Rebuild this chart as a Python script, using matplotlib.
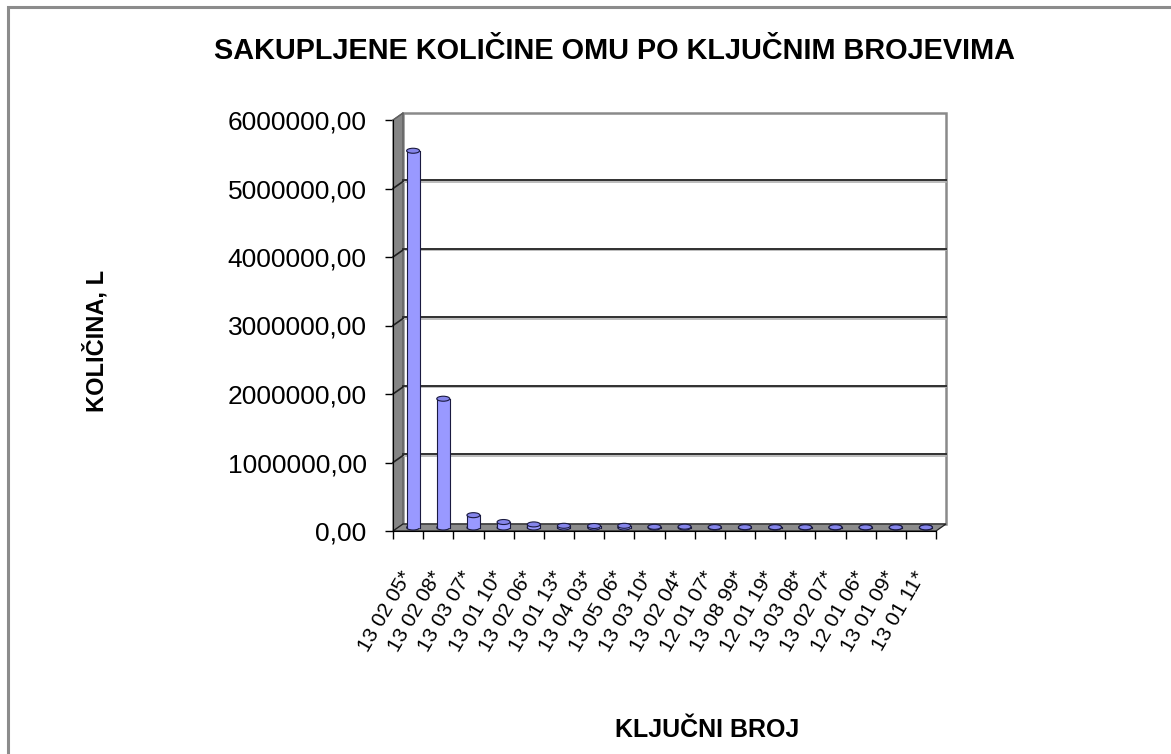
import numpy as np
import matplotlib
matplotlib.use('Agg')
import matplotlib.pyplot as plt
from matplotlib.patches import Polygon, Ellipse, Rectangle
from matplotlib.ticker import FuncFormatter

plt.rcParams['font.family'] = ['Liberation Sans', 'DejaVu Sans']

# data
kljucni_broj = ['13 02 05*', '13 02 08*', '13 03 07*', '13 01 10*', '13 02 06*',
                '13 01 13*', '13 04 03*', '13 05 06*', '13 03 10*', '13 02 04*',
                '12 01 07*', '13 08 99*', '12 01 19*', '13 03 08*', '13 02 07*',
                '12 01 06*', '13 01 09*', '13 01 11*']
kolicina = [5500000, 1880000, 180000, 80000, 45000,
            25000, 22000, 25000, 10000, 12000,
            6000, 5000, 5000, 4000, 4000,
            3000, 3000, 2000]
y_ticks = [0, 1000000, 2000000, 3000000, 4000000, 5000000, 6000000]

W, H = 1171, 754
fig = plt.figure(figsize=(W / 100, H / 100), dpi=100)
fig.patch.set_facecolor('white')

# front plane of the pseudo-3D box (pixels)
ax = fig.add_axes([393 / W, 1 - 531 / H, 543 / W, 411 / H])
n = len(kljucni_broj)
x = np.arange(n)
ax.set_xlim(-0.5, n - 0.5)
ax.set_ylim(0, 6000000)
ax.patch.set_alpha(0)

# depth offset (10 px right, 7 px up) in data units
ddx = 10 / 543 * n
ddy = 7 / 411 * 6000000
x0, x1 = -0.5, n - 0.5
ytop = 6000000

# back wall
back = Rectangle((x0 + ddx, ddy), x1 - x0, ytop, facecolor='white',
                 edgecolor='#8a8a8a', lw=1.8, clip_on=False, zorder=1)
ax.add_patch(back)
# side wall
side = Polygon([(x0, 0), (x0, ytop), (x0 + ddx, ytop + ddy), (x0 + ddx, ddy)],
               closed=True, facecolor='#858585', edgecolor='#555555', lw=0.8,
               clip_on=False, zorder=2)
ax.add_patch(side)
# floor
floor = Polygon([(x0, 0), (x1, 0), (x1 + ddx, ddy), (x0 + ddx, ddy)],
                closed=True, facecolor='#8c8c8c', edgecolor='#222222', lw=0.9,
                clip_on=False, zorder=2)
ax.add_patch(floor)

# gridlines on back wall and side wall
for v in y_ticks[1:-1]:
    ax.plot([x0 + ddx, x1 + ddx], [v + ddy, v + ddy], color='#b0b0b0', lw=1.2,
            clip_on=False, zorder=3)
    ax.plot([x0 + ddx, x1 + ddx], [v + ddy + 15000, v + ddy + 15000], color='#303030',
            lw=1.4, clip_on=False, zorder=3)
    ax.plot([x0, x0 + ddx], [v, v + ddy], color='#202020', lw=1.2,
            clip_on=False, zorder=3)
ax.plot([x0, x0 + ddx], [ytop, ytop + ddy], color='#606060', lw=1.0,
        clip_on=False, zorder=3)

# cylinders at mid depth
bw = 0.43
eh = 5 / 68.5 * 1000000
cx = x + ddx / 2
base = ddy / 2
for xc, v in zip(cx, kolicina):
    ax.add_patch(Ellipse((xc, base), bw, eh, facecolor='#9999ff',
                         edgecolor='#1a1a40', lw=0.8, zorder=3.5))
ax.bar(cx, kolicina, width=bw, bottom=base, color='#9999ff',
       edgecolor='none', zorder=4)
for xc, v in zip(cx, kolicina):
    ax.plot([xc - bw / 2, xc - bw / 2], [base, base + v], color='#1a1a40', lw=0.8, zorder=5)
    ax.plot([xc + bw / 2, xc + bw / 2], [base, base + v], color='#1a1a40', lw=0.8, zorder=5)
    ax.add_patch(Ellipse((xc, base + v), bw, eh, facecolor='#8585ea',
                         edgecolor='#1a1a40', lw=0.8, zorder=6))

# axes styling
for s in ['top', 'right']:
    ax.spines[s].set_visible(False)
ax.spines['left'].set_color('black')
ax.spines['bottom'].set_color('black')
ax.spines['left'].set_zorder(7)
ax.spines['bottom'].set_zorder(7)

ax.set_yticks(y_ticks)
ax.yaxis.set_major_formatter(FuncFormatter(lambda v, p: f'{v:.2f}'.replace('.', ',')))
ax.tick_params(axis='y', length=6, width=1, direction='out', pad=13, labelsize=19)

ax.set_xticks(x)
ax.set_xticklabels(kljucni_broj, rotation=60, ha='right', va='center',
                   rotation_mode='anchor', fontsize=15)
ax.set_xticks(np.arange(-0.5, n, 1), minor=True)
ax.tick_params(axis='x', which='major', length=0, pad=30)
ax.tick_params(axis='x', which='minor', length=6, width=1, direction='out')

# titles
fig.text(614 / W, 1 - 51 / H, 'SAKUPLJENE KOLIČINE OMU PO KLJUČNIM BROJEVIMA',
         ha='center', va='center', fontsize=20.8, fontweight='bold')
fig.text(96 / W, 1 - 341 / H, 'KOLIČINA, L', rotation=90, ha='center',
         va='center', fontsize=17, fontweight='bold')
fig.text(707 / W, 1 - 730 / H, 'KLJUČNI BROJ', ha='center', va='center',
         fontsize=18, fontweight='bold')

# outer chart border (only top and left visible)
border = Rectangle((7.5 / W, -0.1), 1.2, 1 - 7.5 / H + 0.1, transform=fig.transFigure,
                   fill=False, edgecolor='#8c8c8c', lw=2.2)
fig.add_artist(border)

fig.savefig('out.png', dpi=100)
